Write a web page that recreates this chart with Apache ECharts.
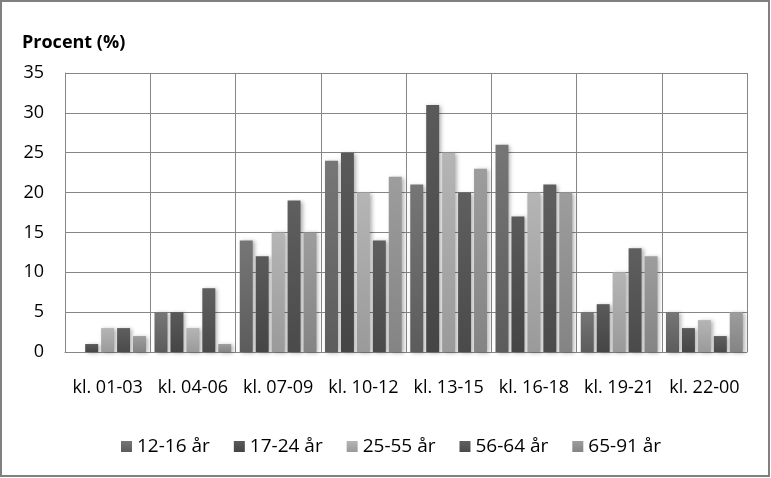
<!DOCTYPE html>
<html><head><meta charset="utf-8">
<script src="https://cdn.jsdelivr.net/npm/echarts@6/dist/echarts.min.js"></script>
<style>html,body{margin:0;padding:0;background:#fff}#c{width:771px;height:478px}</style>
</head><body><div id="c"></div>
<script>
const categories = ['kl. 01-03','kl. 04-06','kl. 07-09','kl. 10-12','kl. 13-15','kl. 16-18','kl. 19-21','kl. 22-00'];
const seriesNames = ['12-16 år','17-24 år','25-55 år','56-64 år','65-91 år'];
const s1216 = [0, 5, 14, 24, 21, 26, 5, 5];
const s1724 = [1, 5, 12, 25, 31, 17, 6, 3];
const s2555 = [3, 3, 15, 20, 25, 20, 10, 4];
const s5664 = [3, 8, 19, 14, 20, 21, 13, 2];
const s6591 = [2, 1, 15, 22, 23, 20, 12, 5];
const yTicks = [0, 5, 10, 15, 20, 25, 30, 35];

const values = [s1216, s1724, s2555, s5664, s6591];
const topCols = ['#767676','#5a5a5a','#b5b5b5','#5f5f5f','#9d9d9d'];
const botCols = ['#5c5c5c','#454545','#9a9a9a','#4a4a4a','#848484'];
const FONT = '"Open Sans"';

const chart = echarts.init(document.getElementById('c'), null, {renderer:'canvas'});
chart.setOption({
  animation:false,
  backgroundColor:'#fff',
  textStyle:{fontFamily:FONT},
  graphic:[{type:'rect',shape:{x:1,y:1,width:768,height:475},style:{fill:'none',stroke:'#808080',lineWidth:2},z:100}],
  title:{text:'Procent (%)',left:17,top:29,textStyle:{fontFamily:FONT,fontWeight:'bold',fontSize:18,color:'#000'}},
  legend:{
    data:seriesNames,top:432,left:116,itemWidth:11,itemHeight:11,itemGap:24,
    icon:'rect',textStyle:{fontFamily:FONT,fontSize:19,color:'#000',padding:[0,0,0,0]}
  },
  grid:{left:65,top:73,right:24,bottom:126},
  xAxis:{
    type:'category',data:categories,
    axisLine:{lineStyle:{color:'#868686',width:1}},
    axisTick:{show:false},
    splitLine:{show:true,interval:0,lineStyle:{color:'#868686',width:1}},
    axisLabel:{interval:0,fontFamily:FONT,fontSize:18,color:'#000',margin:27}
  },
  yAxis:{
    type:'value',min:yTicks[0],max:yTicks[yTicks.length-1],interval:5,
    axisLine:{show:true,lineStyle:{color:'#868686'}},
    axisTick:{show:false},
    splitLine:{lineStyle:{color:'#868686',width:1}},
    axisLabel:{fontFamily:FONT,fontSize:18,color:'#000',margin:21}
  },
  series: seriesNames.map((n,i)=>({
    name:n,type:'bar',data:values[i],
    barGap:'23%',barCategoryGap:'10%',
    itemStyle:{
      color:new echarts.graphic.LinearGradient(0,0,0,1,[{offset:0,color:topCols[i]},{offset:1,color:botCols[i]}]),
      shadowBlur:4,shadowColor:'rgba(0,0,0,0.3)',shadowOffsetX:2,shadowOffsetY:1
    }
  })),
  color:topCols
});
</script></body></html>
